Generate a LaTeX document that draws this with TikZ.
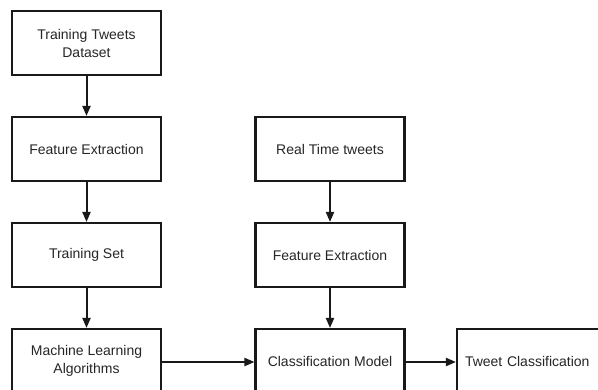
\documentclass[tikz,border=0pt]{standalone}
\usepackage{fontspec}
\setmainfont{Liberation Sans}
\usetikzlibrary{arrows.meta}
\begin{document}
\begin{tikzpicture}[x=1pt,y=-1pt,
  box/.style={draw=black!90, line width=2.1pt, minimum width=149pt, minimum height=64pt, align=center, inner sep=0pt, font=\fontsize{14}{18}\selectfont, text=black!85},
  arr/.style={line width=2pt, draw=black!90, -{Triangle[length=10pt,width=8pt]}}]
\useasboundingbox (0,0) rectangle (598,389);
\clip (0,0) rectangle (598,389);
\fill[white] (0,0) rectangle (598,389);
\node[box] (ttd) at (86.5,43) {Training Tweets\\Dataset};
\node[box] (fe1) at (86.5,149) {Feature Extraction};
\node[box] (ts) at (86.5,255) {Training Set};
\node[box] (ml) at (86.5,361) {Machine Learning\\Algorithms};
\node[box] (rt) at (330,149) {Real Time tweets};
\node[box] (fe2) at (330,255) {Feature Extraction};
\node[box] (cm) at (330,361) {Classification Model};
\node[box, text width=141pt, align=left, minimum width=149pt, text depth=0pt] (tc) at (531.5,361) {\hspace*{4pt}Tweet Classification};
\draw[arr] (ttd) -- (fe1);
\draw[arr] (fe1) -- (ts);
\draw[arr] (ts) -- (ml);
\draw[arr] (rt) -- (fe2);
\draw[arr] (fe2) -- (cm);
\draw[arr] (ml.east |- 0,362) -- (cm.west |- 0,362);
\draw[arr] (cm.east |- 0,362) -- (tc.west |- 0,362);
\end{tikzpicture}
\end{document}
